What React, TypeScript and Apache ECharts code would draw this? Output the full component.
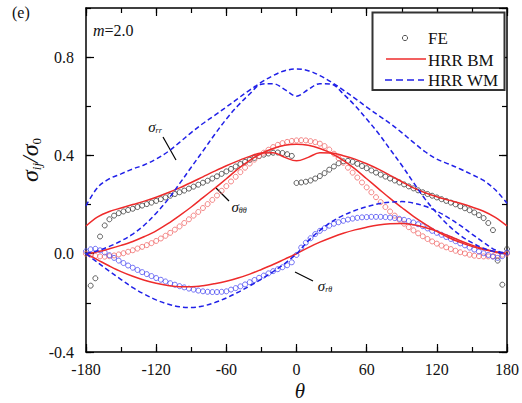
import React, { useEffect, useRef } from "react";
import * as echarts from "echarts";

// ---------- data ----------
const LINE_THETA = [-180,-170,-160,-150,-140,-130,-120,-110,-100,-90,-80,-70,-60,-50,-40,-30,-20,-10,0,10,20,30,40,50,60,70,80,90,100,110,120,130,140,150,160,170,180];

// HRR WM (blue dashed)
const WM_RR = [0.195,0.27,0.305,0.325,0.345,0.362,0.385,0.415,0.453,0.493,0.53,0.563,0.597,0.632,0.666,0.698,0.725,0.745,0.752,0.745,0.725,0.698,0.666,0.632,0.597,0.563,0.53,0.493,0.453,0.415,0.385,0.365,0.345,0.322,0.298,0.26,0.205];
const WM_TT = [0,0.012,0.03,0.052,0.08,0.117,0.165,0.22,0.285,0.352,0.418,0.485,0.548,0.603,0.65,0.69,0.692,0.668,0.641,0.668,0.692,0.69,0.65,0.603,0.548,0.49,0.425,0.36,0.29,0.222,0.165,0.115,0.075,0.045,0.022,0.008,0];
const WM_RT = [0,-0.036,-0.071,-0.105,-0.138,-0.165,-0.188,-0.205,-0.216,-0.219,-0.213,-0.199,-0.18,-0.157,-0.131,-0.103,-0.073,-0.04,0,0.052,0.095,0.13,0.156,0.176,0.191,0.203,0.21,0.212,0.206,0.193,0.173,0.146,0.115,0.08,0.046,0.015,0];

// HRR BM (red solid)
const BM_RR = [0.113,0.15,0.172,0.186,0.2,0.214,0.23,0.248,0.268,0.29,0.313,0.336,0.358,0.378,0.396,0.41,0.411,0.392,0.378,0.392,0.411,0.41,0.399,0.385,0.366,0.344,0.319,0.293,0.268,0.248,0.232,0.218,0.205,0.19,0.173,0.148,0.113];
const BM_TT = [0,0.008,0.02,0.034,0.05,0.07,0.093,0.122,0.155,0.19,0.228,0.266,0.305,0.345,0.38,0.408,0.428,0.441,0.445,0.441,0.428,0.408,0.38,0.345,0.305,0.265,0.225,0.188,0.152,0.12,0.091,0.066,0.046,0.03,0.017,0.007,0];
const BM_RT = [0,-0.025,-0.05,-0.073,-0.092,-0.108,-0.12,-0.129,-0.134,-0.134,-0.13,-0.122,-0.112,-0.099,-0.083,-0.064,-0.044,-0.022,0,0.025,0.047,0.066,0.083,0.097,0.108,0.117,0.122,0.123,0.118,0.107,0.092,0.073,0.053,0.035,0.02,0.008,0];

// FE (open circles)
const FE_THETA = [
  -180,-176,-172,-168,-164,-160,-156,-152,-148,-144,
  -140,-136,-132,-128,-124,-120,-116,-112,-108,-104,
  -100,-96,-92,-88,-84,-80,-76,-72,-68,-64,
  -60,-56,-52,-48,-44,-40,-36,-32,-28,-24,
  -20,-16,-12,-8,-4,0,4,8,12,16,
  20,24,28,32,36,40,44,48,52,56,
  60,64,68,72,76,80,84,88,92,96,
  100,104,108,112,116,120,124,128,132,136,
  140,144,148,152,156,160,164,168,172,176,
  180,
];
const FE_RR = [
  null,-0.13,-0.1,0.07,0.115,0.14,0.155,0.165,0.172,0.178,
  0.183,0.19,0.196,0.202,0.208,0.215,0.222,0.229,0.236,0.243,
  0.25,0.257,0.265,0.273,0.281,0.289,0.297,0.306,0.315,0.325,
  0.335,0.345,0.355,0.365,0.374,0.382,0.39,0.397,0.403,0.408,
  0.411,0.412,0.41,0.405,0.398,0.288,0.29,0.293,0.298,0.306,
  0.316,0.328,0.342,0.355,0.368,0.376,0.378,0.374,0.366,0.357,
  0.348,0.339,0.33,0.322,0.314,0.306,0.298,0.29,0.282,0.274,
  0.266,0.258,0.25,0.243,0.236,0.229,0.222,0.215,0.208,0.201,
  0.193,0.185,0.177,0.168,0.157,0.145,0.125,0.096,-0.028,-0.126,
  0.019,
];
const FE_TT = [
  0,-0.005,-0.009,-0.011,-0.012,-0.01,-0.007,-0.003,0.002,0.008,
  0.014,0.021,0.028,0.035,0.043,0.052,0.062,0.073,0.085,0.098,
  0.111,0.125,0.14,0.155,0.17,0.186,0.202,0.219,0.237,0.256,
  0.275,0.294,0.313,0.332,0.35,0.367,0.383,0.398,0.411,0.423,
  0.434,0.443,0.45,0.455,0.459,0.461,0.462,0.461,0.458,0.454,
  0.448,0.438,0.424,0.407,0.389,0.37,0.35,0.33,0.31,0.29,
  0.27,0.25,0.23,0.21,0.19,0.172,0.155,0.138,0.122,0.108,
  0.095,0.083,0.071,0.06,0.05,0.041,0.033,0.026,0.019,0.012,
  0.006,0.001,-0.004,-0.008,-0.01,-0.011,-0.011,-0.01,-0.007,-0.004,
  0,
];
const FE_RT = [
  0.01,0.018,0.02,0.014,0.005,-0.006,-0.017,-0.028,-0.038,-0.048,
  -0.057,-0.066,-0.075,-0.083,-0.091,-0.099,-0.106,-0.113,-0.12,-0.126,
  -0.132,-0.137,-0.142,-0.146,-0.15,-0.153,-0.155,-0.156,-0.156,-0.155,
  -0.153,-0.146,-0.14,-0.133,-0.125,-0.116,-0.107,-0.098,-0.089,-0.08,
  -0.071,-0.063,-0.055,-0.047,-0.035,-0.005,0.025,0.045,0.063,0.08,
  0.093,0.104,0.114,0.122,0.128,0.134,0.139,0.143,0.146,0.148,
  0.149,0.15,0.15,0.15,0.149,0.147,0.145,0.142,0.138,0.133,
  0.127,0.12,0.112,0.103,0.093,0.085,0.077,0.068,0.06,0.051,
  0.042,0.034,0.025,0.017,0.009,0.002,-0.005,-0.012,-0.017,-0.01,
  0.005,
];

// ---------- styles ----------
const SERIF = "Liberation Serif";
const AX = "#000";
const RED = "#ee2b2b";
const BLUE = "#2020e8";
const C_BLACK = "#3a3a3a";
const C_RED = "#f06868";
const C_BLUE = "#4d4df2";

function zip(xs: number[], ys: (number | null)[]) {
  const out: number[][] = [];
  xs.forEach((x, i) => {
    const y = ys[i];
    if (y !== null && y !== undefined) out.push([x, y]);
  });
  return out;
}

function xAx(position: string, labeled: boolean, interval: number, tickLen: number, showLine: boolean) {
  return {
    type: "value", position, min: -180, max: 180, interval,
    axisLine: { show: showLine, onZero: false, lineStyle: { color: AX, width: 1.5 } },
    axisTick: { show: true, inside: true, length: tickLen, lineStyle: { color: AX, width: 1.2 } },
    splitLine: { show: false },
    axisLabel: { show: labeled, margin: 9, fontFamily: SERIF, fontSize: 16, color: "#111", hideOverlap: false },
  };
}
function yAx(position: string, labeled: boolean, interval: number, tickLen: number, showLine: boolean) {
  return {
    type: "value", position, min: -0.4, max: 1.0, interval,
    axisLine: { show: showLine, onZero: false, lineStyle: { color: AX, width: 1.5 } },
    axisTick: { show: true, inside: true, length: tickLen, lineStyle: { color: AX, width: 1.2 } },
    splitLine: { show: false },
    axisLabel: {
      show: labeled, margin: 12, fontFamily: SERIF, fontSize: 16, color: "#111",
      showMaxLabel: false, formatter: (v: number) => v.toFixed(1),
    },
  };
}

function scatter(data: (number | null)[], color: string) {
  return {
    type: "scatter", name: "FE", data: zip(FE_THETA, data), symbol: "circle", symbolSize: 5,
    itemStyle: { color: "rgba(0,0,0,0)", borderColor: color, borderWidth: 1 }, silent: true, z: 2,
  };
}
function line(name: string, data: number[], color: string, dashed: boolean) {
  return {
    type: "line", name, data: zip(LINE_THETA, data), smooth: 0.35, symbol: "none", silent: true, z: 3,
    lineStyle: { color, width: 1.5, type: dashed ? [5, 3] : "solid" },
  };
}

function sigmaLabel(x: number, y: number, sub: string) {
  return {
    type: "text", x, y,
    style: {
      text: `{a|σ}{b|${sub}}`, align: "center", verticalAlign: "middle",
      rich: {
        a: { fontFamily: SERIF, fontStyle: "italic", fontSize: 15, fill: "#111" },
        b: { fontFamily: SERIF, fontStyle: "italic", fontSize: 8, fill: "#111", verticalAlign: "bottom", lineHeight: 8 },
      },
    },
  };
}
function leader(x1: number, y1: number, x2: number, y2: number) {
  return { type: "line", shape: { x1, y1, x2, y2 }, style: { stroke: "#000", lineWidth: 1.2 } };
}

const option = {
  animation: false,
  backgroundColor: "#fff",
  textStyle: { fontFamily: SERIF },
  grid: { left: 86, right: 13, top: 8, bottom: 51, show: false },
  xAxis: [
    xAx("bottom", true, 60, 8, true),
    xAx("bottom", false, 30, 5, false),
    xAx("top", false, 60, 8, true),
    xAx("top", false, 30, 5, false),
  ],
  yAxis: [
    yAx("left", true, 0.4, 8, true),
    yAx("left", false, 0.2, 5, false),
    yAx("right", false, 0.4, 8, true),
    yAx("right", false, 0.2, 5, false),
  ],
  series: [
    scatter(FE_RR, C_BLACK),
    scatter(FE_TT, C_RED),
    scatter(FE_RT, C_BLUE),
    line("HRR BM", BM_RR, RED, false),
    line("HRR BM", BM_TT, RED, false),
    line("HRR BM", BM_RT, RED, false),
    line("HRR WM", WM_RR, BLUE, true),
    line("HRR WM", WM_TT, BLUE, true),
    line("HRR WM", WM_RT, BLUE, true),
  ],
  graphic: [
    { type: "text", x: 12, y: 4, style: { text: "(e)", fontFamily: SERIF, fontSize: 16, fill: "#111" } },
    {
      type: "text", x: 93, y: 30,
      style: {
        text: "{i|m}{n|=2.0}", verticalAlign: "middle",
        rich: {
          i: { fontFamily: SERIF, fontStyle: "italic", fontSize: 16, fill: "#111" },
          n: { fontFamily: SERIF, fontSize: 16, fill: "#111" },
        },
      },
    },
    // axis titles
    { type: "text", x: 300, y: 391, style: { text: "θ", fontFamily: SERIF, fontStyle: "italic", fontSize: 21, fill: "#111", align: "center", verticalAlign: "middle" } },
    {
      type: "text", x: 30, y: 160, rotation: Math.PI / 2,
      style: {
        text: "{a|σ}{b|ij}{a|/σ}{c|0}", align: "center", verticalAlign: "middle",
        rich: {
          a: { fontFamily: SERIF, fontStyle: "italic", fontSize: 24, fill: "#111", lineHeight: 26 },
          b: { fontFamily: SERIF, fontStyle: "italic", fontSize: 13, fill: "#111", verticalAlign: "bottom", lineHeight: 12 },
          c: { fontFamily: SERIF, fontSize: 13, fill: "#111", verticalAlign: "bottom", lineHeight: 12 },
        },
      },
    },
    // curve annotations
    sigmaLabel(155, 127, "rr"),
    leader(163, 137, 176, 160),
    sigmaLabel(239, 207, "θθ"),
    leader(216, 188, 229, 201),
    sigmaLabel(325, 286, "rθ"),
    leader(295, 272, 313, 281),
    // legend
    { type: "rect", shape: { x: 372.5, y: 12.5, width: 132, height: 77.5 }, style: { fill: "#fff", stroke: "#333", lineWidth: 2 }, z: 10 },
    { type: "circle", shape: { cx: 405, cy: 38, r: 2.6 }, style: { fill: "none", stroke: "#555", lineWidth: 1 }, z: 11 },
    { type: "text", x: 428, y: 38.5, style: { text: "FE", fontFamily: SERIF, fontSize: 17, fill: "#111", verticalAlign: "middle" }, z: 11 },
    { type: "line", shape: { x1: 386, y1: 59, x2: 426, y2: 59 }, style: { stroke: RED, lineWidth: 1.6 }, z: 11 },
    { type: "text", x: 428, y: 60, style: { text: "HRR BM", fontFamily: SERIF, fontSize: 17, fill: "#111", verticalAlign: "middle" }, z: 11 },
    { type: "line", shape: { x1: 385, y1: 80, x2: 424, y2: 80 }, style: { stroke: BLUE, lineWidth: 1.6, lineDash: [7, 4] }, z: 11 },
    { type: "text", x: 428, y: 80.5, style: { text: "HRR WM", fontFamily: SERIF, fontSize: 17, fill: "#111", verticalAlign: "middle" }, z: 11 },
  ],
};

export default function App() {
  const ref = useRef<HTMLDivElement>(null);
  useEffect(() => {
    const chart = echarts.init(ref.current!, null, { renderer: "svg" });
    chart.setOption(option as any);
    return () => chart.dispose();
  }, []);
  return (
    <div
      ref={ref}
      style={{ position: "fixed", left: 0, top: 0, width: 522, height: 403, background: "#fff" }}
    />
  );
}
